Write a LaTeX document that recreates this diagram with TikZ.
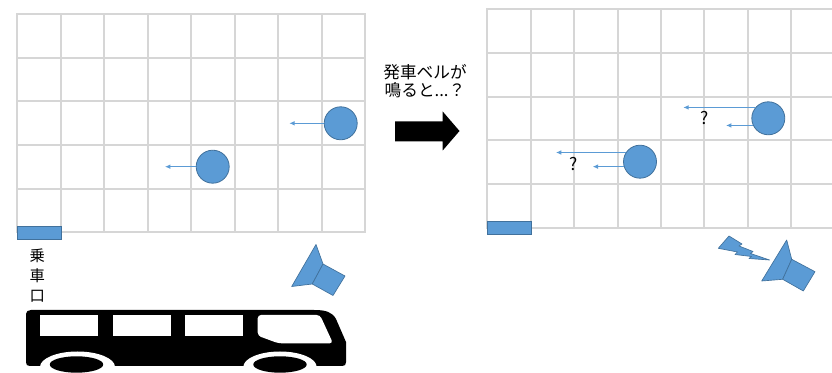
\documentclass[tikz,border=0pt]{standalone}
\usepackage{fontspec}
\newfontfamily\jpfont{Noto Sans CJK JP}
\usetikzlibrary{arrows.meta}
\definecolor{office}{RGB}{91,155,213}
\definecolor{officeedge}{RGB}{65,113,156}
\definecolor{gridgray}{RGB}{214,214,214}

\begin{document}
\begin{tikzpicture}[x=0.75pt,y=-0.75pt,
  gridline/.style={draw=gridgray,line width=1.5pt,line cap=rect},
  person/.style={circle,fill=office,draw=officeedge,line width=0.6pt,minimum size=24.75pt,inner sep=0pt},
  door/.style={rectangle,fill=office,draw=officeedge,line width=0.6pt,minimum width=33.3pt,minimum height=10pt,inner sep=0pt},
  walk/.style={draw=office,line width=0.7pt,-{Latex[length=4pt,width=3.5pt]}},
  bluepart/.style={fill=office,draw=officeedge,line width=0.5pt,line join=round},
  ask/.style={font=\jpfont\fontsize{13pt}{14pt}\selectfont,inner sep=0pt},
  ]
\useasboundingbox (0,0) rectangle (832,373);
\begin{scope}
\clip (0,0) rectangle (832,373);

% floor grid before the bell
\foreach \i in {0,...,8} \draw[gridline] (17.3+43.46*\i,14) -- (17.3+43.46*\i,232.3);
\foreach \j in {0,...,5} \draw[gridline] (17.3,14+43.66*\j) -- (365,14+43.66*\j);

% floor grid after the bell
\foreach \i in {0,...,8} \draw[gridline] (487.3+43.4*\i,9) -- (487.3+43.4*\i,228);
\foreach \j in {0,...,5} \draw[gridline] (487.3,9+43.8*\j) -- (840,9+43.8*\j);

% boarding doors
\node[door] (doorL) at (39.5,232.7) {};
\node[door] (doorR) at (509.5,227.7) {};

% passengers walking to the door
\node[person] (a1) at (340.7,123.3) {};
\node[person] (a2) at (212.7,166.7) {};
\coordinate (a1to) at (289.3,0);
\coordinate (a2to) at (165,0);
\draw[walk] (a1.west) -- (a1.west -| a1to);
\draw[walk] (a2.west) -- (a2.west -| a2to);

% passengers unsure how far to go
\node[person] (b1) at (768.3,118.3) {};
\node[person] (b2) at (640,161.7) {};
\coordinate (b1far) at (683.3,0);
\coordinate (b1near) at (726,0);
\coordinate (b2far) at (556,0);
\coordinate (b2near) at (592.7,0);
\draw[walk] (b1.140) -- (b1.140 -| b1far);
\draw[walk] (b1.205) -- (b1.205 -| b1near);
\draw[walk] (b2.147) -- (b2.147 -| b2far);
\draw[walk] (b2.197) -- (b2.197 -| b2near);
\node[ask] (q1) at (705,118.3) {?};
\node[ask] (q2) at (573.3,164) {?};

% caption and big arrow
\node[font=\jpfont\fontsize{12.5pt}{13.75pt}\selectfont,align=center,inner sep=0pt] (bell) at (425,81) {発車ベルが\\鳴ると...？};
\fill[black] (395,121.5) -- (442.7,121.5) -- (442.7,111.5) -- (459.5,131) -- (442.7,150.5) -- (442.7,141.5) -- (395,141.5) -- cycle;

% door label
\node[font=\jpfont\fontsize{11.5pt}{15pt}\selectfont,align=center,inner sep=0pt] (entry) at (37.2,275.5) {乗\\車\\口};

% loudspeaker, left
\draw[bluepart] (316,244.5) -- (323,264) -- (312.3,284) -- (291.7,286.5) -- cycle;
\draw[bluepart] (323,264) -- (345,276) -- (333,295.5) -- (312.3,284) -- cycle;

% loudspeaker with sound, right
\draw[bluepart] (786.7,240) -- (791.7,259.3) -- (782.7,279.3) -- (761.7,281) -- cycle;
\draw[bluepart] (791.7,259.3) -- (815,271.7) -- (803.3,291) -- (782.7,279.3) -- cycle;
\draw[bluepart] (718.3,248.3) -- (729,236) -- (742,244) -- (739,246) -- (753,251.5) -- (750.5,253.5) -- (769.5,260) -- (749,258.5) -- (751.5,256.5) -- (735,254.5) -- (737.5,252) -- cycle;

% bus silhouette
\fill[black] (26,362) -- (26,314) .. controls (26,311.5) and (28,310) .. (31,310) -- (314,310) .. controls (326,310) and (332,312) .. (336,319) -- (346,342) -- (346,362) .. controls (346,365) and (345,366) .. (342,366) -- (30,366) .. controls (27,366) and (26,365) .. (26,362) -- cycle;
\fill[white] (40,315) rectangle (98.3,335.7);
\fill[white] (112.7,315) rectangle (170.7,335.7);
\fill[white] (185,315) rectangle (243.3,335.7);
\fill[white,rounded corners=2.5pt] (257.7,315) -- (320,315) -- (333,343.3) -- (278.3,343.3) -- (257.7,335.7) -- cycle;
\fill[white] (77.5,367) ellipse [x radius=37.5,y radius=15.5];
\fill[white] (280,367) ellipse [x radius=36.7,y radius=15.5];
\fill[black] (76.5,364.5) ellipse [x radius=26.7,y radius=8.2];
\fill[black] (280,364.5) ellipse [x radius=26.7,y radius=8.2];
\end{scope}
\end{tikzpicture}
\end{document}
